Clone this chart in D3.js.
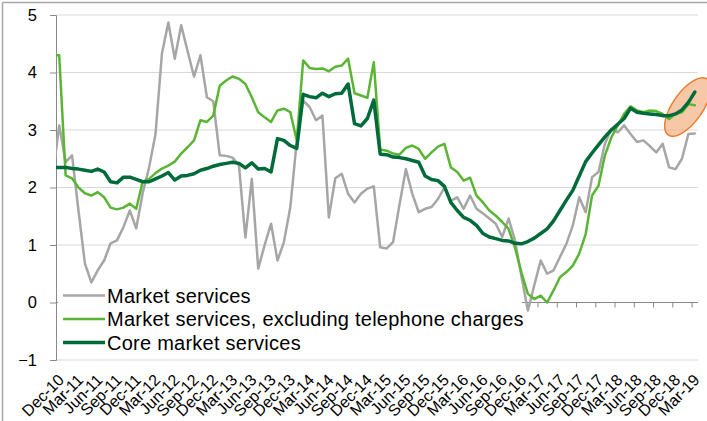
<!DOCTYPE html>
<html><head><meta charset="utf-8">
<script src="https://cdn.jsdelivr.net/npm/d3@7"></script>
<style>body{margin:0;background:#fff}svg{display:block;font-family:"Liberation Sans",Arial,sans-serif}</style>
</head><body>
<svg id="c" width="707" height="421"></svg>
<script>
// ---- data ----
const tickLabels = ["Dec-10","Mar-11","Jun-11","Sep-11","Dec-11","Mar-12","Jun-12","Sep-12","Dec-12","Mar-13","Jun-13","Sep-13","Dec-13","Mar-14","Jun-14","Sep-14","Dec-14","Mar-15","Jun-15","Sep-15","Dec-15","Mar-16","Jun-16","Sep-16","Dec-16","Mar-17","Jun-17","Sep-17","Dec-17","Mar-18","Jun-18","Sep-18","Dec-18","Mar-19"];
const seriesNames = ["Market services","Market services, excluding telephone charges","Core market services"];
const yTicks = [-1,0,1,2,3,4,5];
// monthly, Dec-10 .. Apr-19
const marketServices = [2.2,3.08,2.44,2.56,1.6,0.68,0.35,0.56,0.73,1.03,1.08,1.31,1.6,1.29,1.9,2.35,2.93,4.33,4.87,4.24,4.82,4.37,3.93,4.3,3.57,3.5,2.56,2.55,2.52,2.38,1.13,2.15,0.59,1.0,1.37,0.73,1.05,1.66,2.8,3.51,3.4,3.17,3.25,1.48,2.16,2.24,1.89,1.74,1.89,1.98,2.02,0.96,0.94,1.05,1.7,2.32,1.89,1.57,1.63,1.66,1.8,2.0,1.77,1.83,1.63,1.86,1.63,1.55,1.46,1.37,1.14,1.46,1.08,0.45,-0.14,0.3,0.73,0.5,0.56,0.79,1.02,1.34,1.83,1.57,2.18,2.27,2.76,3.02,2.96,3.08,2.93,2.79,2.82,2.72,2.61,2.76,2.35,2.32,2.5,2.93,2.94];
const marketExTelephone = [4.3,4.3,2.21,2.16,2.0,1.9,1.86,1.92,1.83,1.65,1.62,1.65,1.72,1.63,2.1,2.15,2.25,2.33,2.38,2.45,2.59,2.7,2.82,3.17,3.14,3.25,3.77,3.86,3.93,3.89,3.8,3.57,3.31,3.22,3.14,3.34,3.37,3.31,2.82,4.21,4.08,4.06,4.07,4.02,4.1,4.12,4.24,3.64,3.6,3.56,4.18,2.66,2.64,2.59,2.57,2.69,2.73,2.67,2.5,2.61,2.71,2.76,2.35,2.27,2.12,2.17,1.86,1.74,1.6,1.51,1.4,1.28,0.95,0.52,0.15,0.06,0.12,0.0,0.21,0.44,0.53,0.64,0.85,1.19,1.86,2.03,2.56,2.87,3.08,3.28,3.41,3.34,3.31,3.34,3.33,3.28,3.19,3.28,3.31,3.45,3.43];
const coreMarketServices = [2.35,2.35,2.35,2.33,2.32,2.3,2.28,2.32,2.27,2.1,2.08,2.18,2.18,2.14,2.1,2.1,2.15,2.2,2.26,2.13,2.2,2.21,2.24,2.3,2.33,2.37,2.4,2.42,2.44,2.42,2.34,2.43,2.32,2.33,2.27,2.85,2.82,2.73,2.68,3.62,3.58,3.56,3.64,3.58,3.63,3.64,3.8,3.11,3.07,3.2,3.52,2.58,2.57,2.53,2.52,2.5,2.47,2.44,2.2,2.14,2.12,2.02,1.74,1.6,1.48,1.43,1.34,1.2,1.14,1.11,1.08,1.07,1.03,1.02,1.06,1.12,1.2,1.28,1.42,1.6,1.78,1.95,2.2,2.45,2.6,2.74,2.88,3.0,3.1,3.2,3.38,3.31,3.29,3.28,3.27,3.25,3.25,3.28,3.35,3.48,3.66];
const colors = ["#a6a6a6","#5ab535","#006b3a"];
const widths = [2.5,2.5,3.5];

// ---- layout ----
const svg = d3.select("#c");
const plot = {left:56, right:698, top:15, bottom:360};
const x = d3.scaleLinear().domain([0, 100]).range([plot.left, plot.right]);
const y = d3.scaleLinear().domain([-1, 5]).range([plot.bottom, plot.top]);

// frame border (cut)
svg.append("line").attr("x1",2.5).attr("x2",707).attr("y1",2.5).attr("y2",2.5).attr("stroke","#a6a6a6").attr("stroke-width",1.5);
svg.append("line").attr("x1",2.5).attr("x2",2.5).attr("y1",2.5).attr("y2",421).attr("stroke","#a6a6a6").attr("stroke-width",1.5);

// gridlines
svg.append("g").selectAll("line").data(yTicks.filter(d=>d!==0)).join("line")
  .attr("x1",plot.left).attr("x2",plot.right).attr("y1",d=>y(d)).attr("y2",d=>y(d))
  .attr("stroke","#d9d9d9").attr("stroke-width",1);

// y axis
const yAxis = d3.axisLeft(y).tickValues(yTicks).tickSize(6).tickPadding(13).tickFormat(d3.format("d"));
const gy = svg.append("g").attr("transform",`translate(${plot.left},0)`).call(yAxis);
gy.select(".domain").attr("stroke","#898989").attr("stroke-width",1);
gy.selectAll(".tick line").attr("stroke","#898989");
gy.selectAll("text").attr("font-size",16.5).attr("fill","#000").attr("font-family","Liberation Sans, Arial, sans-serif");

// x axis at 0
const tickIdx = tickLabels.map((d,i)=>i*3);
const xAxis = d3.axisBottom(x).tickValues(tickIdx).tickSize(5).tickFormat("");
const gx = svg.append("g").attr("transform",`translate(0,${y(0)})`).call(xAxis);
gx.select(".domain").attr("stroke","#898989").attr("stroke-width",1).attr("d",`M${plot.left},0H${plot.right}`);
gx.selectAll(".tick line").attr("stroke","#898989");

// x labels at bottom
svg.append("g").selectAll("text").data(tickLabels).join("text")
  .attr("transform",(d,i)=>`translate(${x(tickIdx[i])+5},377) rotate(-45)`)
  .attr("text-anchor","end").attr("dy","0.35em").attr("font-size",16).attr("fill","#000")
  .text(d=>d);

// clip
svg.append("clipPath").attr("id","pc").append("rect")
  .attr("x",plot.left).attr("y",0).attr("width",plot.right-plot.left+4).attr("height",plot.bottom+5);

// highlight ellipse on latest points (behind lines)
const lastI = coreMarketServices.length-1;
const ex = x(lastI-1.6), ey = y(3.4);
svg.append("ellipse").attr("cx",ex).attr("cy",ey).attr("rx",34).attr("ry",15)
  .attr("transform",`rotate(-55,${ex},${ey})`)
  .attr("fill","#f4b183").attr("fill-opacity",0.7)
  .attr("stroke","#ed7d31").attr("stroke-width",1.5);

const allSeries = [marketServices, marketExTelephone, coreMarketServices];
const line = d3.line().x((d,i)=>x(i-0.5)).y(d=>y(d));
const gl = svg.append("g").attr("clip-path","url(#pc)");
allSeries.forEach((s,k)=>{
  gl.append("path").datum(s).attr("d",line).attr("fill","none")
    .attr("stroke",colors[k]).attr("stroke-width",widths[k])
    .attr("stroke-linejoin","round").attr("stroke-linecap","round");
});

// legend
const lg = svg.append("g");
lg.append("rect").attr("x",58).attr("y",284).attr("width",464).attr("height",73).attr("fill","#fff");
const rowY = [295.5,319,342.5];
seriesNames.forEach((n,k)=>{
  lg.append("line").attr("x1",63).attr("x2",105).attr("y1",rowY[k]).attr("y2",rowY[k])
    .attr("stroke",colors[k]).attr("stroke-width",widths[k]);
  lg.append("text").attr("x",107).attr("y",rowY[k]).attr("dy","0.35em")
    .attr("font-size",20).attr("letter-spacing",0.25).attr("fill","#000").text(n);
});
</script>
</body></html>
